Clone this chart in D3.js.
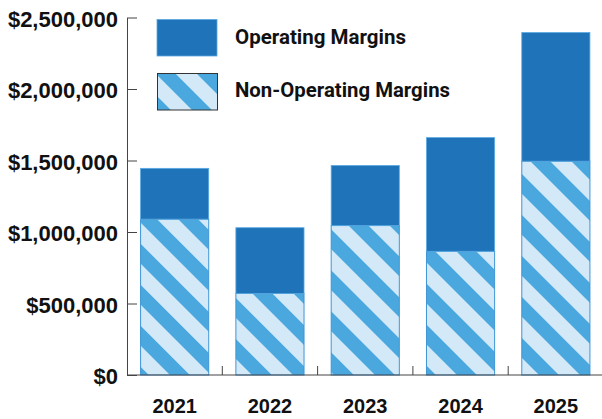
<!DOCTYPE html>
<html>
<head>
<meta charset="utf-8">
<style>
body { margin: 0; background: #fff; }
.axis path, .axis line { stroke: #444; stroke-width: 1; }
.axis text { font-family: "Liberation Sans", Arial, sans-serif; font-weight: bold; fill: #111; }
.legend text { font-family: Roboto, sans-serif; font-weight: bold; fill: #111; }
</style>
</head>
<body>
<svg width="602" height="419"></svg>
<script src="https://d3js.org/d3.v7.min.js"></script>
<script>
// data
var years = ["2021", "2022", "2023", "2024", "2025"];
var nonOperating = [1090000, 570000, 1045000, 865000, 1495000];
var operating = [355000, 460000, 420000, 795000, 900000];
var yTicks = [0, 500000, 1000000, 1500000, 2000000, 2500000];
var seriesNames = ["Operating Margins", "Non-Operating Margins"];

var svg = d3.select("svg");

var plotLeft = 127, plotBottom = 375, plotTop = 17.5, plotRight = 603.5;

var x = d3.scaleBand()
    .domain(years)
    .range([plotLeft, plotRight])
    .paddingInner(0.285)
    .paddingOuter(0.1425);

var y = d3.scaleLinear()
    .domain([0, 2500000])
    .range([plotBottom, plotTop]);

// hatch pattern
var defs = svg.append("defs");
var pat = defs.append("pattern")
    .attr("id", "hatch")
    .attr("patternUnits", "userSpaceOnUse")
    .attr("width", 29)
    .attr("height", 29)
    .attr("patternTransform", "rotate(-45)");
pat.append("rect").attr("width", 29).attr("height", 29).attr("fill", "#d3e9f8");
pat.append("rect").attr("x", 0).attr("width", 14).attr("height", 29).attr("fill", "#4aa8de");

var rows = years.map(function(yr, i) {
  return { year: yr, non: nonOperating[i], op: operating[i] };
});

// non-operating (bottom)
svg.append("g").selectAll("rect")
  .data(rows)
  .enter().append("rect")
    .attr("x", function(d) { return x(d.year); })
    .attr("width", x.bandwidth())
    .attr("y", function(d) { return y(d.non); })
    .attr("height", function(d) { return y(0) - y(d.non); })
    .attr("fill", "url(#hatch)")
    .attr("stroke", "#3f95d6")
    .attr("stroke-width", 1);

// operating (top)
svg.append("g").selectAll("rect")
  .data(rows)
  .enter().append("rect")
    .attr("x", function(d) { return x(d.year); })
    .attr("width", x.bandwidth())
    .attr("y", function(d) { return y(d.non + d.op); })
    .attr("height", function(d) { return y(d.non) - y(d.non + d.op); })
    .attr("fill", "#1f73b9")
    .attr("stroke", "#5aa9e2")
    .attr("stroke-width", 0.8);

// y axis
var fmt = function(v) { return "$" + d3.format(",")(v); };
var yAxis = svg.append("g")
    .attr("class", "axis")
    .attr("transform", "translate(" + plotLeft + ",0)")
    .call(d3.axisLeft(y).tickValues(yTicks).tickFormat(fmt).tickSizeInner(-10).tickSizeOuter(0).tickPadding(9));
yAxis.selectAll("text").attr("font-size", 22).attr("dy", "0.4em");

// x axis
var xAxis = svg.append("g").attr("class", "axis");
xAxis.append("line")
    .attr("x1", plotLeft).attr("x2", 602)
    .attr("y1", plotBottom).attr("y2", plotBottom);
var pad = x.step() * x.paddingInner() / 2;
xAxis.selectAll(".xt")
  .data(years.slice(1))
  .enter().append("line")
    .attr("class", "xt")
    .attr("x1", function(d) { return x(d) - pad; })
    .attr("x2", function(d) { return x(d) - pad; })
    .attr("y1", plotBottom).attr("y2", plotBottom - 9);
xAxis.selectAll(".xl")
  .data(years)
  .enter().append("text")
    .attr("class", "xl")
    .attr("x", function(d) { return x(d) + x.bandwidth() / 2; })
    .attr("y", 413)
    .attr("text-anchor", "middle")
    .attr("font-size", 20)
    .text(function(d) { return d; });

// legend
var legend = svg.append("g").attr("class", "legend");
legend.append("rect")
    .attr("x", 157).attr("y", 19.5).attr("width", 60).attr("height", 36.5)
    .attr("fill", "#1f73b9").attr("stroke", "#5aa9e2").attr("stroke-width", 0.8);
legend.append("rect")
    .attr("x", 157.5).attr("y", 73.5).attr("width", 60).attr("height", 36.5)
    .attr("fill", "url(#hatch)").attr("stroke", "#333").attr("stroke-width", 1);
legend.append("text")
    .attr("x", 235).attr("y", 44.3)
    .attr("font-size", 21)
    .attr("textLength", 171).attr("lengthAdjust", "spacingAndGlyphs")
    .text(seriesNames[0]);
legend.append("text")
    .attr("x", 235).attr("y", 97.3)
    .attr("font-size", 21)
    .attr("textLength", 215).attr("lengthAdjust", "spacingAndGlyphs")
    .text(seriesNames[1]);
</script>
</body>
</html>
